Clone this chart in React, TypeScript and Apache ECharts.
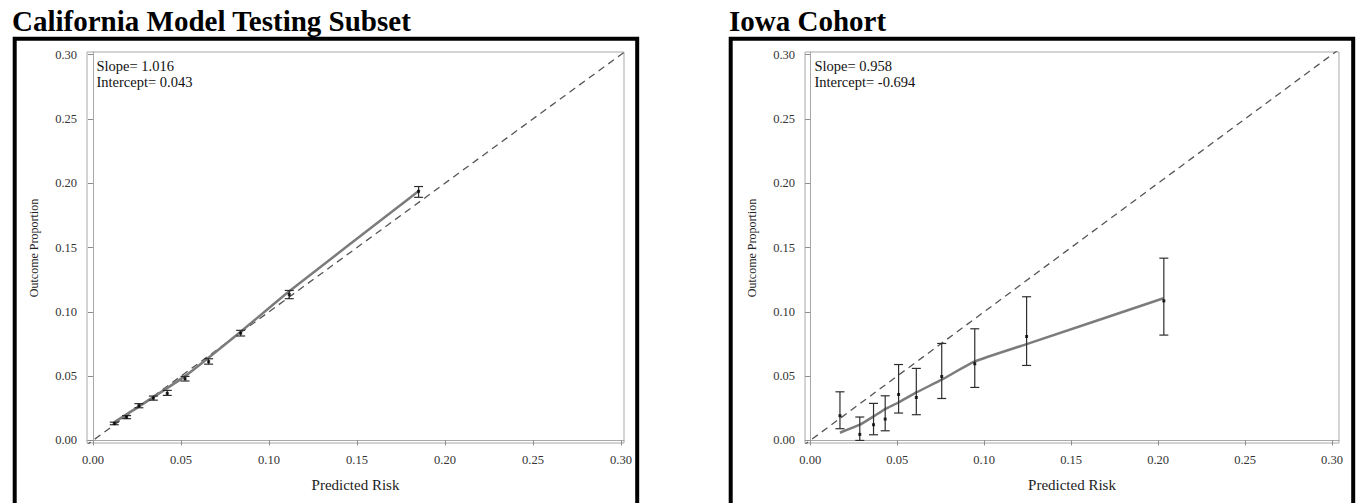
import { useEffect, useRef } from 'react';
import * as echarts from 'echarts';

// ---------- data ----------
const tickValues = [0, 0.05, 0.1, 0.15, 0.2, 0.25, 0.3];

const panelTitles = ['California Model Testing Subset', 'Iowa Cohort'];
const slopeTexts = ['Slope= 1.016', 'Slope= 0.958'];
const interceptTexts = ['Intercept= 0.043', 'Intercept= -0.694'];
const xAxisName = 'Predicted Risk';
const yAxisName = 'Outcome Proportion';

// California points
const caX = [0.0121, 0.0191, 0.0261, 0.0343, 0.0422, 0.0523, 0.0657, 0.0839, 0.1115, 0.185];
const caY = [0.0132, 0.0181, 0.027, 0.0329, 0.0366, 0.048, 0.0612, 0.0834, 0.1135, 0.1937];
const caLower = [0.0122, 0.0169, 0.0254, 0.0313, 0.035, 0.0462, 0.0593, 0.0812, 0.1102, 0.189];
const caUpper = [0.0142, 0.0193, 0.0286, 0.0345, 0.0389, 0.0498, 0.0635, 0.0856, 0.1166, 0.1974];
// California smoothed calibration curve
const caFitX = [0.012, 0.0523, 0.0839, 0.1115, 0.1744, 0.185];
const caFitY = [0.014, 0.05, 0.0845, 0.116, 0.1826, 0.194];

// Iowa points
const ioX = [0.0171, 0.0285, 0.0364, 0.0431, 0.0508, 0.061, 0.0756, 0.0946, 0.1244, 0.2033];
const ioY = [0.0192, 0.0047, 0.0122, 0.0166, 0.0357, 0.0334, 0.0497, 0.0596, 0.0808, 0.1085];
const ioLower = [0.0091, 0.0, 0.0044, 0.0075, 0.0213, 0.02, 0.0326, 0.0412, 0.0583, 0.0819];
const ioUpper = [0.0378, 0.0182, 0.0288, 0.0347, 0.059, 0.056, 0.0754, 0.0868, 0.1117, 0.1417];
// Iowa smoothed calibration curve
const ioFitX = [0.0171, 0.0285, 0.0364, 0.0431, 0.0508, 0.061, 0.0756, 0.0946, 0.1244, 0.2031];
const ioFitY = [0.006, 0.0122, 0.0187, 0.0244, 0.0295, 0.0373, 0.0472, 0.0614, 0.0749, 0.1105];

// reference diagonal (clipped to plot)
const diagX = [-0.01, 0.31];
const diagY = [-0.01, 0.31];

const FONT = '"Liberation Serif", "Times New Roman", serif';

type PanelDef = {
  left: number;
  width: number;
  xMin: number;
  xMax: number;
  pX: number[];
  pY: number[];
  lo: number[];
  hi: number[];
  fX: number[];
  fY: number[];
  smooth: number;
};

const Y_MIN = -0.002;
const Y_MAX = 0.302;
const GRID_TOP = 52;
const GRID_H = 391;

const panels: PanelDef[] = [
  { left: 87, width: 537, xMin: -0.0034, xMax: 0.3017, pX: caX, pY: caY, lo: caLower, hi: caUpper, fX: caFitX, fY: caFitY, smooth: 0.15 },
  { left: 805, width: 534, xMin: -0.003, xMax: 0.304, pX: ioX, pY: ioY, lo: ioLower, hi: ioUpper, fX: ioFitX, fY: ioFitY, smooth: 0.15 },
];

function buildOption() {
  const grid: any[] = [];
  const xAxis: any[] = [];
  const yAxis: any[] = [];
  const series: any[] = [];
  const graphic: any[] = [];

  const axisCommon = {
    type: 'value',
    splitLine: { show: false },
    axisLine: { show: true, lineStyle: { color: '#a8a8a8', width: 1 } },
    axisTick: { show: true, length: 5, customValues: tickValues, lineStyle: { color: '#8c8c8c' } },
    axisLabel: {
      customValues: tickValues,
      formatter: (v: number) => v.toFixed(2),
      fontFamily: FONT,
      fontSize: 12.5,
      color: '#333',
      margin: 10,
    },
  };

  panels.forEach((p, i) => {
    grid.push({
      left: p.left,
      top: GRID_TOP,
      width: p.width,
      height: GRID_H,
      show: true,
      borderColor: '#a8a8a8',
      borderWidth: 1,
      backgroundColor: 'transparent',
    });
    xAxis.push({ ...axisCommon, gridIndex: i, min: p.xMin, max: p.xMax });
    yAxis.push({ ...axisCommon, gridIndex: i, min: Y_MIN, max: Y_MAX });

    series.push({
      type: 'line',
      xAxisIndex: i,
      yAxisIndex: i,
      data: diagX.map((x, k) => [x, diagY[k]]),
      symbol: 'none',
      clip: true,
      lineStyle: { color: '#555', width: 1.3, type: [7, 5] },
      z: 2,
    });
    series.push({
      type: 'line',
      xAxisIndex: i,
      yAxisIndex: i,
      data: p.fX.map((x, k) => [x, p.fY[k]]),
      symbol: 'none',
      smooth: p.smooth,
      lineStyle: { color: '#7c7c7c', width: 2.5 },
      z: 3,
    });
    series.push({
      type: 'custom',
      xAxisIndex: i,
      yAxisIndex: i,
      data: p.pX.map((x, k) => [x, p.pY[k], p.lo[k], p.hi[k]]),
      encode: { x: 0, y: [1, 2, 3] },
      renderItem: (_params: any, api: any) => {
        const x = api.value(0);
        const a = api.coord([x, api.value(2)]);
        const b = api.coord([x, api.value(3)]);
        const w = 4.5;
        const style = { stroke: '#2e2e2e', lineWidth: 1.2, fill: null };
        return {
          type: 'group',
          children: [
            { type: 'line', shape: { x1: a[0], y1: a[1], x2: b[0], y2: b[1] }, style },
            { type: 'line', shape: { x1: a[0] - w, y1: a[1], x2: a[0] + w, y2: a[1] }, style },
            { type: 'line', shape: { x1: b[0] - w, y1: b[1], x2: b[0] + w, y2: b[1] }, style },
          ],
        };
      },
      z: 4,
    });
    series.push({
      type: 'scatter',
      xAxisIndex: i,
      yAxisIndex: i,
      data: p.pX.map((x, k) => [x, p.pY[k]]),
      symbol: 'rect',
      symbolSize: 3,
      itemStyle: { color: '#000' },
      z: 5,
    });

    const frameX = i === 0 ? 14.7 : 730.7;
    graphic.push({
      type: 'rect',
      shape: { x: frameX, y: 38.7, width: 622.5, height: 500 },
      style: { fill: 'none', stroke: '#000', lineWidth: 4 },
      silent: true,
    });
    graphic.push({
      type: 'text',
      x: i === 0 ? 12 : 729,
      y: 6,
      style: { text: panelTitles[i], fontFamily: FONT, fontWeight: 'bold', fontSize: 29, fill: '#000', verticalAlign: 'top' },
    });
    graphic.push({
      type: 'text',
      x: p.left + 9.5,
      y: 65.5,
      style: { text: slopeTexts[i], fontFamily: FONT, fontSize: 14.5, fill: '#111', verticalAlign: 'middle' },
    });
    graphic.push({
      type: 'text',
      x: p.left + 9.5,
      y: 82,
      style: { text: interceptTexts[i], fontFamily: FONT, fontSize: 14.5, fill: '#111', verticalAlign: 'middle' },
    });
    graphic.push({
      type: 'text',
      x: p.left + p.width / 2,
      y: 485,
      style: { text: xAxisName, fontFamily: FONT, fontSize: 15, fill: '#222', align: 'center', verticalAlign: 'middle' },
    });
    graphic.push({
      type: 'text',
      x: i === 0 ? 34 : 752,
      y: 248,
      rotation: Math.PI / 2,
      style: { text: yAxisName, fontFamily: FONT, fontSize: 12, fill: '#222', align: 'center', verticalAlign: 'middle' },
    });
  });

  return {
    animation: false,
    backgroundColor: '#fff',
    grid,
    xAxis,
    yAxis,
    series,
    graphic,
  };
}

export default function App() {
  const ref = useRef<HTMLDivElement>(null);
  useEffect(() => {
    if (!ref.current) return;
    const chart = echarts.init(ref.current, undefined, { renderer: 'svg' });
    chart.setOption(buildOption() as any);
    return () => chart.dispose();
  }, []);
  return (
    <div
      ref={ref}
      style={{ position: 'absolute', left: 0, top: 0, width: 1357, height: 503, background: '#fff' }}
    />
  );
}
